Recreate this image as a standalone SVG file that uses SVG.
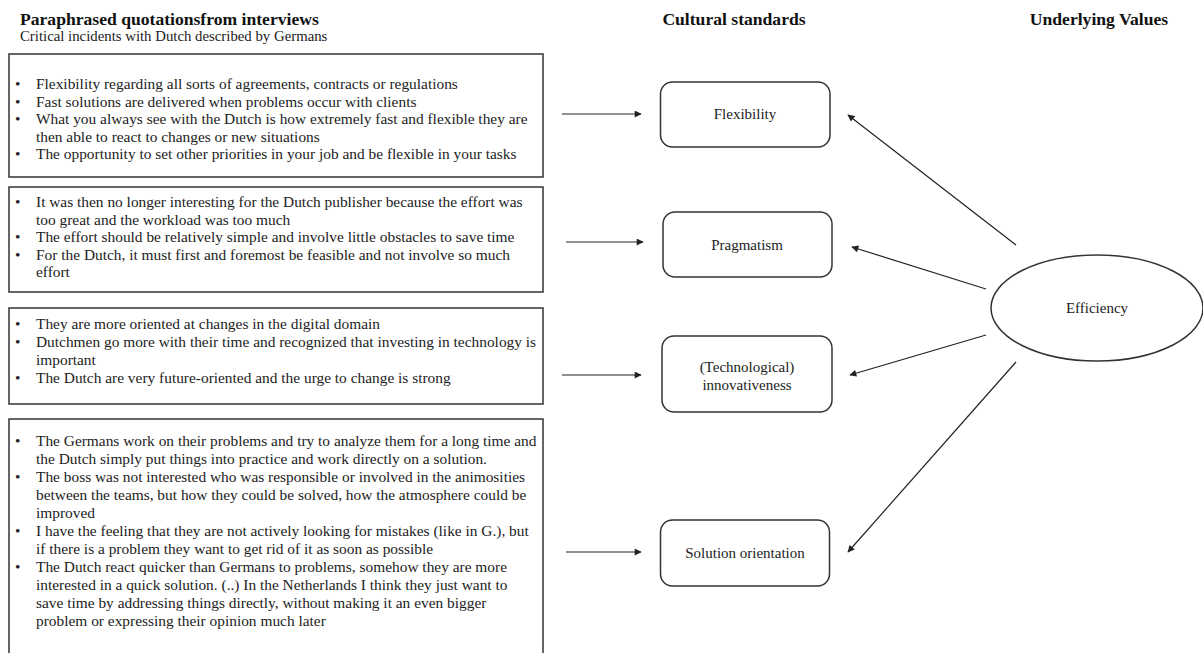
<svg xmlns="http://www.w3.org/2000/svg" width="1203" height="653" viewBox="0 0 1203 653" font-family="'Liberation Serif', 'Times New Roman', serif">
<defs>
<style>
text{font-family:"Liberation Serif","Times New Roman",serif;fill:#222;}
.h{font-weight:bold;font-size:17.6px;fill:#111;}
.sub{font-size:14.8px;}
.t{font-size:15.4px;}
.n{font-size:15px;text-anchor:middle;}
.box{fill:#fff;stroke:#333;stroke-width:1.5;}
.node{fill:#fff;stroke:#333;stroke-width:1.5;}
.c line{stroke:#222;stroke-width:1.2;marker-end:url(#ah);}
</style>
<marker id="ah" viewBox="0 0 10 10" refX="9" refY="5" markerWidth="8" markerHeight="7" markerUnits="userSpaceOnUse" orient="auto">
<path d="M0,0 L10,5 L0,10 z" fill="#222"/>
</marker>
</defs>
<rect width="1203" height="653" fill="#fff"/>
<g id="headers">
<text class="h" x="20" y="25">Paraphrased quotationsfrom interviews</text>
<text class="sub" x="20" y="41">Critical incidents with Dutch described by Germans</text>
<text class="h" x="734" y="25" text-anchor="middle">Cultural standards</text>
<text class="h" x="1099" y="25" text-anchor="middle">Underlying Values</text>
</g>
<g id="quotes1">
<rect class="box" x="9" y="54" width="534" height="123"/>
<text class="t" x="15" y="89">•</text><text class="t" x="36" y="89">Flexibility regarding all sorts of agreements, contracts or regulations</text>
<text class="t" x="15" y="106.5">•</text><text class="t" x="36" y="106.5">Fast solutions are delivered when problems occur with clients</text>
<text class="t" x="15" y="124">•</text><text class="t" x="36" y="124">What you always see with the Dutch is how extremely fast and flexible they are</text>
<text class="t" x="36" y="141.5">then able to react to changes or new situations</text>
<text class="t" x="15" y="159">•</text><text class="t" x="36" y="159">The opportunity to set other priorities in your job and be flexible in your tasks</text>
</g>
<g id="quotes2">
<rect class="box" x="9" y="187" width="534" height="105"/>
<text class="t" x="15" y="207">•</text><text class="t" x="36" y="207">It was then no longer interesting for the Dutch publisher because the effort was</text>
<text class="t" x="36" y="224.5">too great and the workload was too much</text>
<text class="t" x="15" y="242">•</text><text class="t" x="36" y="242">The effort should be relatively simple and involve little obstacles to save time</text>
<text class="t" x="15" y="259.5">•</text><text class="t" x="36" y="259.5">For the Dutch, it must first and foremost be feasible and not involve so much</text>
<text class="t" x="36" y="277">effort</text>
</g>
<g id="quotes3">
<rect class="box" x="9" y="308" width="534" height="96"/>
<text class="t" x="15" y="329">•</text><text class="t" x="36" y="329">They are more oriented at changes in the digital domain</text>
<text class="t" x="15" y="347">•</text><text class="t" x="36" y="347">Dutchmen go more with their time and recognized that investing in technology is</text>
<text class="t" x="36" y="365">important</text>
<text class="t" x="15" y="383">•</text><text class="t" x="36" y="383">The Dutch are very future-oriented and the urge to change is strong</text>
</g>
<g id="quotes4">
<rect class="box" x="9" y="419" width="534" height="250"/>
<text class="t" x="15" y="446">•</text><text class="t" x="36" y="446">The Germans work on their problems and try to analyze them for a long time and</text>
<text class="t" x="36" y="464">the Dutch simply put things into practice and work directly on a solution.</text>
<text class="t" x="15" y="482">•</text><text class="t" x="36" y="482">The boss was not interested who was responsible or involved in the animosities</text>
<text class="t" x="36" y="500">between the teams, but how they could be solved, how the atmosphere could be</text>
<text class="t" x="36" y="518">improved</text>
<text class="t" x="15" y="536">•</text><text class="t" x="36" y="536">I have the feeling that they are not actively looking for mistakes (like in G.), but</text>
<text class="t" x="36" y="554">if there is a problem they want to get rid of it as soon as possible</text>
<text class="t" x="15" y="572">•</text><text class="t" x="36" y="572">The Dutch react quicker than Germans to problems, somehow they are more</text>
<text class="t" x="36" y="590">interested in a quick solution. (..) In the Netherlands I think they just want to</text>
<text class="t" x="36" y="608">save time by addressing things directly, without making it an even bigger</text>
<text class="t" x="36" y="626">problem or expressing their opinion much later</text>
</g>
<g id="flexibility">
<rect class="node" x="660.5" y="82" width="169.5" height="65" rx="12"/>
<text class="n" x="745" y="119">Flexibility</text>
</g>
<g id="pragmatism">
<rect class="node" x="663" y="212" width="169" height="65" rx="12"/>
<text class="n" x="747" y="250">Pragmatism</text>
</g>
<g id="innovativeness">
<rect class="node" x="662" y="336" width="170" height="76" rx="12"/>
<text class="n" x="747" y="372">(Technological)</text>
<text class="n" x="747" y="390">innovativeness</text>
</g>
<g id="solution">
<rect class="node" x="660.5" y="520" width="169" height="66" rx="12"/>
<text class="n" x="745" y="558">Solution orientation</text>
</g>
<g id="efficiency">
<ellipse class="node" cx="1097" cy="308" rx="106" ry="53"/>
<text class="n" x="1097" y="313">Efficiency</text>
</g>
<g id="connectors" class="c">
<line x1="562" y1="114" x2="641" y2="114"/>
<line x1="566" y1="242" x2="643" y2="242"/>
<line x1="562" y1="375" x2="641" y2="375"/>
<line x1="566" y1="552" x2="641" y2="552"/>
<line x1="1016" y1="245" x2="848" y2="115"/>
<line x1="986" y1="289" x2="852" y2="247"/>
<line x1="986" y1="335" x2="850" y2="375"/>
<line x1="1016" y1="362" x2="848" y2="552"/>
</g>
</svg>
